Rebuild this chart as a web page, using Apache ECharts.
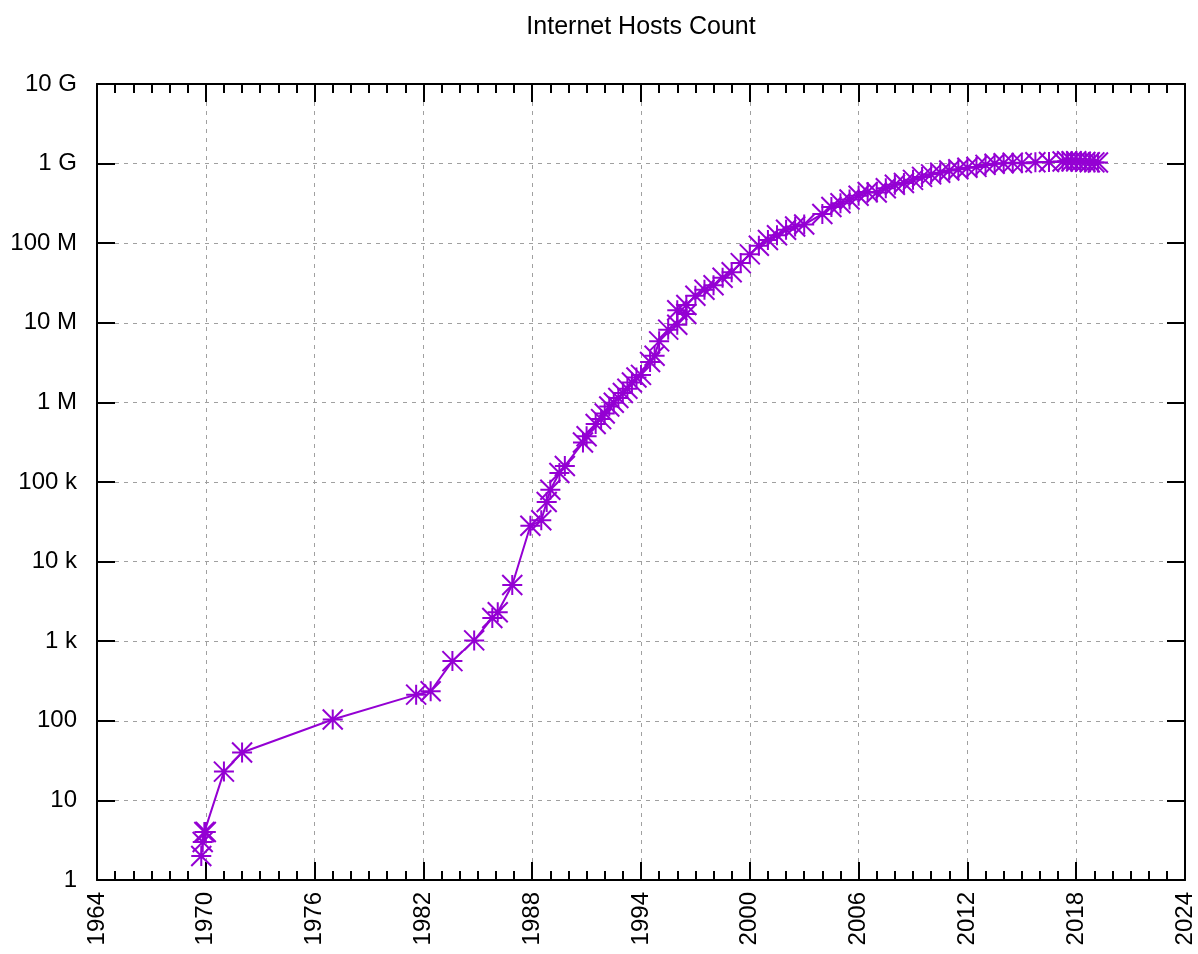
<!DOCTYPE html>
<html>
<head>
<meta charset="utf-8">
<script src="https://cdn.jsdelivr.net/npm/echarts@6/dist/echarts.min.js"></script>
<style>
  html, body { margin: 0; padding: 0; background: #fff; }
  #chart { width: 1198px; height: 954px; }
</style>
</head>
<body>
<div id="chart"></div>
<script>
const chartTitle = 'Internet Hosts Count';
const xStart = 1964;
const xEnd = 2024;
const xStep = 6;
const yTickLabels = ['1', '10', '100', '1 k', '10 k', '100 k', '1 M', '10 M', '100 M', '1 G', '10 G'];

const years = [
  1969.75, 1969.83, 1969.92, 1970.0, 1971.0, 1972.0, 1977.0,
  1981.6, 1982.4, 1983.6, 1984.8, 1985.8, 1986.1, 1986.9, 1987.9,
  1988.5, 1988.8, 1989.0, 1989.5, 1989.8, 1990.8, 1991.0, 1991.5, 1991.8,
  1992.0, 1992.25, 1992.5, 1992.75, 1993.0, 1993.25, 1993.5, 1993.75,
  1994.0, 1994.5, 1994.75, 1995.0, 1995.5, 1996.0, 1996.0,
  1996.5, 1996.5, 1997.0, 1997.5, 1998.0, 1998.5, 1999.0, 1999.5,
  2000.0, 2000.5, 2001.0, 2001.5, 2002.0, 2002.5, 2003.0, 2004.0, 2004.5,
  2005.0, 2005.5, 2006.0, 2006.5, 2007.0, 2007.5, 2008.0, 2008.5, 2009.0, 2009.5,
  2010.0, 2010.5, 2011.0, 2011.5, 2012.0, 2012.5, 2013.0, 2013.5, 2014.0, 2014.5,
  2015.0, 2015.75, 2016.5, 2017.25, 2017.5, 2017.75, 2018.0, 2018.25, 2018.5,
  2018.75, 2019.0, 2019.2
];
const hosts = [
  2, 3, 4, 4, 23, 40, 104,
  213, 235, 562, 1024, 1961, 2308, 5089, 28174,
  33000, 56000, 80000, 130000, 159000, 313000, 376000, 535000, 617000,
  727000, 890000, 992000, 1136000, 1313000, 1486000, 1776000, 2056000,
  2217000, 3212000, 3864000, 5846000, 8200000, 9472000, 14352000,
  12881000, 16729000, 21819000, 26053000, 29670000, 36739000, 43230000, 56218000,
  72398000, 93047000, 109574000, 125888000, 147344000, 162128000, 171638000, 233101000, 285139000,
  317646000, 353284000, 394991000, 439286000, 433193000, 489774000, 541677000, 570937000, 625226000, 681064000,
  732740000, 768913000, 818374000, 849869000, 888239000, 908585000, 963518000, 996230000, 1010251000, 1028544000,
  1012706000, 1040000000, 1048000000, 1062000000, 1068000000, 1072000000, 1070000000, 1060000000, 1050000000,
  1040000000, 1035000000, 1030000000
];

const purple = '#9400d3';
const fontFamily = '"Liberation Sans", Arial, sans-serif';
const asterisk = 'path://M0 0L20 20M20 0L0 20M0 10L20 10M10 0L10 20';

const seriesData = years.map((y, i) => [y - xStart, hosts[i]]);

const axisLineStyle = { color: '#000', width: 2 };
const gridLineStyle = { color: '#a0a0a0', width: 1, type: [4, 5] };

function xAxisDef(pos, showLabels) {
  return {
    type: 'value',
    position: pos,
    min: 0,
    max: xEnd - xStart,
    interval: xStep,
    axisLine: { show: true, onZero: false, lineStyle: axisLineStyle },
    axisTick: { show: true, inside: true, length: 18, lineStyle: axisLineStyle },
    minorTick: { show: true, splitNumber: 6, length: 9, lineStyle: axisLineStyle },
    axisLabel: {
      show: showLabels, rotate: 90, margin: 12, fontSize: 24, color: '#000',
      fontFamily: fontFamily,
      formatter: v => String(Math.round(v + xStart))
    },
    splitLine: { show: showLabels, lineStyle: gridLineStyle },
    minorSplitLine: { show: false }
  };
}

function yAxisDef(pos, showLabels) {
  return {
    type: 'log',
    logBase: 10,
    position: pos,
    min: 1,
    max: 1e10,
    interval: 1,
    axisLine: { show: true, onZero: false, lineStyle: axisLineStyle },
    axisTick: { show: true, inside: true, length: 18, lineStyle: axisLineStyle },
    minorTick: { show: false },
    axisLabel: {
      show: showLabels, margin: 20, fontSize: 24, color: '#000',
      fontFamily: fontFamily,
      formatter: v => yTickLabels[Math.round(Math.log10(v))]
    },
    splitLine: { show: showLabels, lineStyle: gridLineStyle },
    minorSplitLine: { show: false }
  };
}

const chart = echarts.init(document.getElementById('chart'), null, { renderer: 'canvas' });
chart.setOption({
  backgroundColor: '#fff',
  animation: false,
  graphic: [{
    type: 'text',
    x: 641,
    y: 27,
    style: {
      text: chartTitle,
      align: 'center',
      verticalAlign: 'middle',
      fontSize: 25,
      fontFamily: fontFamily,
      fill: '#000'
    }
  }],
  grid: { left: 97, right: 13, top: 84, bottom: 74, containLabel: false },
  xAxis: [xAxisDef('bottom', true), xAxisDef('top', false)],
  yAxis: [yAxisDef('left', true), yAxisDef('right', false)],
  series: [{
    type: 'line',
    xAxisIndex: 0,
    yAxisIndex: 0,
    data: seriesData,
    symbol: asterisk,
    symbolSize: 20,
    showAllSymbol: true,
    color: purple,
    lineStyle: { color: purple, width: 2 },
    itemStyle: { color: 'rgba(0,0,0,0)', borderColor: purple, borderWidth: 2 },
    z: 5
  }]
});
</script>
</body>
</html>
